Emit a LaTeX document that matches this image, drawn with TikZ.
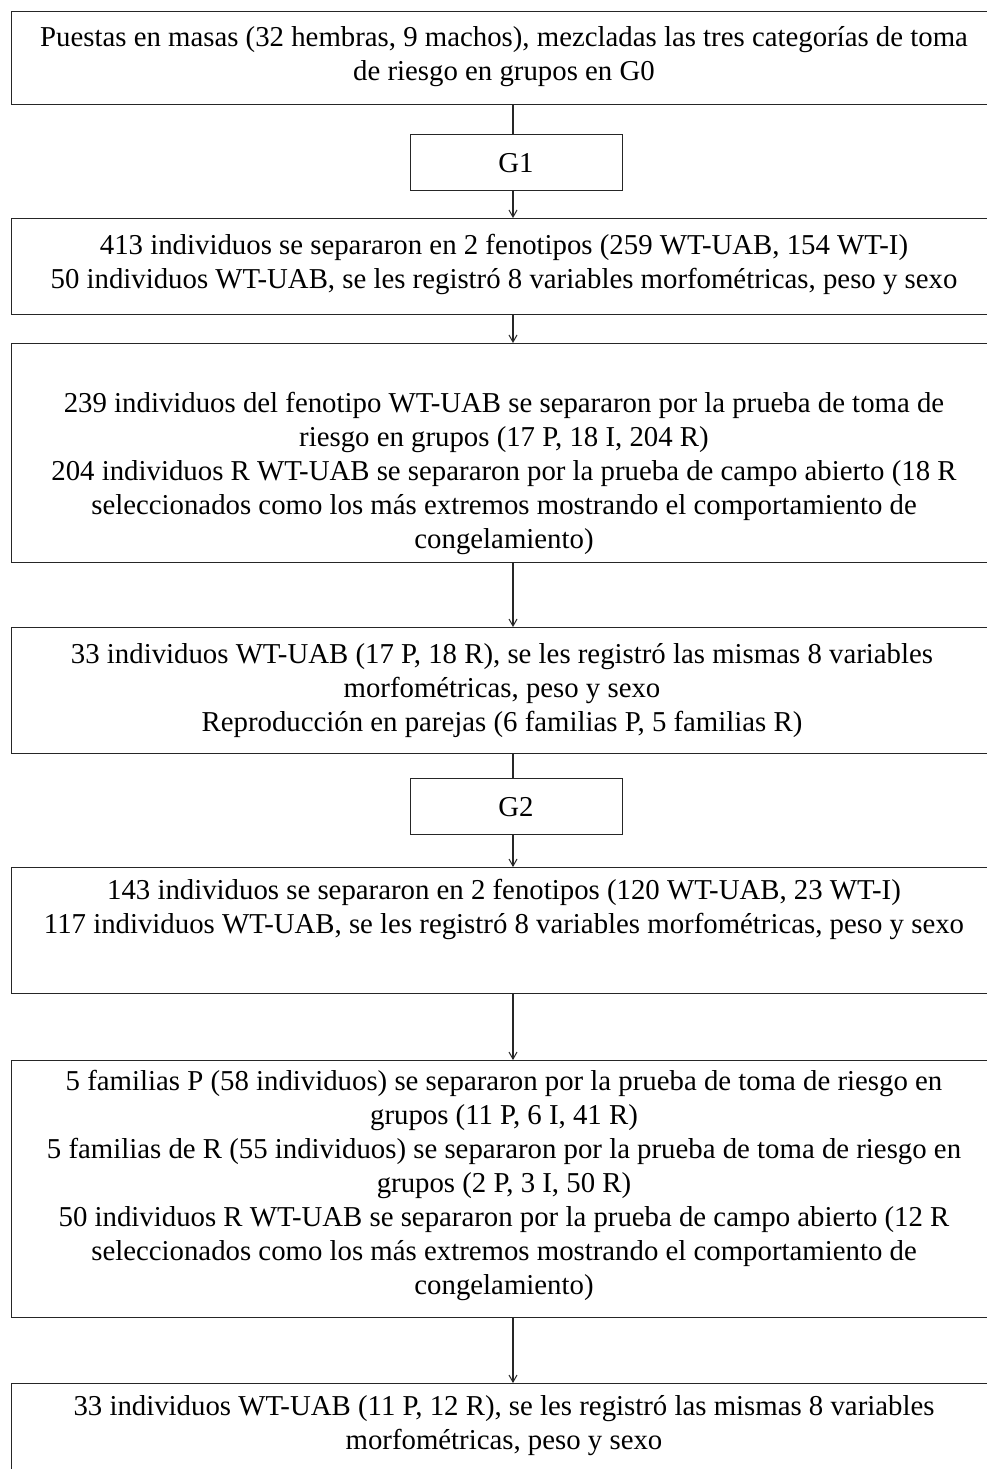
\documentclass[tikz,border=0pt]{standalone}
\usepackage{fontspec}
\setmainfont{Liberation Serif}
\usetikzlibrary{arrows.meta,calc}
\begin{document}
\begin{tikzpicture}[x=1pt,y=-1pt,
  box/.style={draw=black!85, line width=1.2pt, anchor=north west, inner sep=0pt},
  gbox/.style={draw=black!85, line width=1.2pt, anchor=north west, inner sep=0pt, minimum width=212pt, minimum height=56pt},
  txt/.style={align=center, inner sep=0pt, font=\fontsize{28.8}{34}\selectfont},
  conn/.style={draw=black!85, line width=1.1pt},
  arr/.style={conn, -{Straight Barb[length=7pt,width=8pt,line width=1pt]}}]
\useasboundingbox (0,0) rectangle (987,1469);
\fill[white] (0,0) rectangle (987,1469);
\coordinate (ax) at (513,0);
% boxes
\node[box, minimum width=989pt, minimum height=93pt] (b1) at (11,11) {};
\node[gbox] (g1) at (410,134) {};
\node[box, minimum width=989pt, minimum height=96pt] (b2) at (11,218) {};
\node[box, minimum width=989pt, minimum height=219pt] (b3) at (11,343) {};
\node[box, minimum width=989pt, minimum height=126pt] (b4) at (11,627) {};
\node[gbox] (g2) at (410,778) {};
\node[box, minimum width=989pt, minimum height=126pt] (b5) at (11,867) {};
\node[box, minimum width=989pt, minimum height=257pt] (b6) at (11,1060) {};
\node[box, minimum width=989pt, minimum height=200pt] (b7) at (11,1383) {};
% texts
\node[txt] (t1) at (504,57) {Puestas en masas (32 hembras, 9 machos), mezcladas las tres categorías de toma\\de riesgo en grupos en G0};
\node[txt] (tg1) at (516,163) {G1};
\node[txt] (t2) at (504,264.5) {413 individuos se separaron en 2 fenotipos (259 WT-UAB, 154 WT-I)\\50 individuos WT-UAB, se les registró 8 variables morfométricas, peso y sexo};
\node[txt] (t3) at (504,473) {239 individuos del fenotipo WT-UAB se separaron por la prueba de toma de\\riesgo en grupos (17 P, 18 I, 204 R)\\204 individuos R WT-UAB se separaron por la prueba de campo abierto (18 R\\seleccionados como los más extremos mostrando el comportamiento de\\congelamiento)};
\node[txt] (t4) at (502,691) {33 individuos WT-UAB (17 P, 18 R), se les registró las mismas 8 variables\\morfométricas, peso y sexo\\Reproducción en parejas (6 familias P, 5 familias R)};
\node[txt] (tg2) at (516,807) {G2};
\node[txt] (t5) at (504,909) {143 individuos se separaron en 2 fenotipos (120 WT-UAB, 23 WT-I)\\117 individuos WT-UAB, se les registró 8 variables morfométricas, peso y sexo};
\node[txt] (t6) at (504,1185) {5 familias P (58 individuos) se separaron por la prueba de toma de riesgo en\\grupos (11 P, 6 I, 41 R)\\5 familias de R (55 individuos) se separaron por la prueba de toma de riesgo en\\grupos (2 P, 3 I, 50 R)\\50 individuos R WT-UAB se separaron por la prueba de campo abierto (12 R\\seleccionados como los más extremos mostrando el comportamiento de\\congelamiento)};
\node[txt] (t7) at (504,1426) {33 individuos WT-UAB (11 P, 12 R), se les registró las mismas 8 variables\\morfométricas, peso y sexo};
% connectors
\draw[conn] (b1.south -| ax) -- (g1.north -| ax);
\draw[arr] (g1.south -| ax) -- (b2.north -| ax);
\draw[arr] (b2.south -| ax) -- (b3.north -| ax);
\draw[arr] (b3.south -| ax) -- (b4.north -| ax);
\draw[conn] (b4.south -| ax) -- (g2.north -| ax);
\draw[arr] (g2.south -| ax) -- (b5.north -| ax);
\draw[arr] (b5.south -| ax) -- (b6.north -| ax);
\draw[arr] (b6.south -| ax) -- (b7.north -| ax);
\end{tikzpicture}
\end{document}
